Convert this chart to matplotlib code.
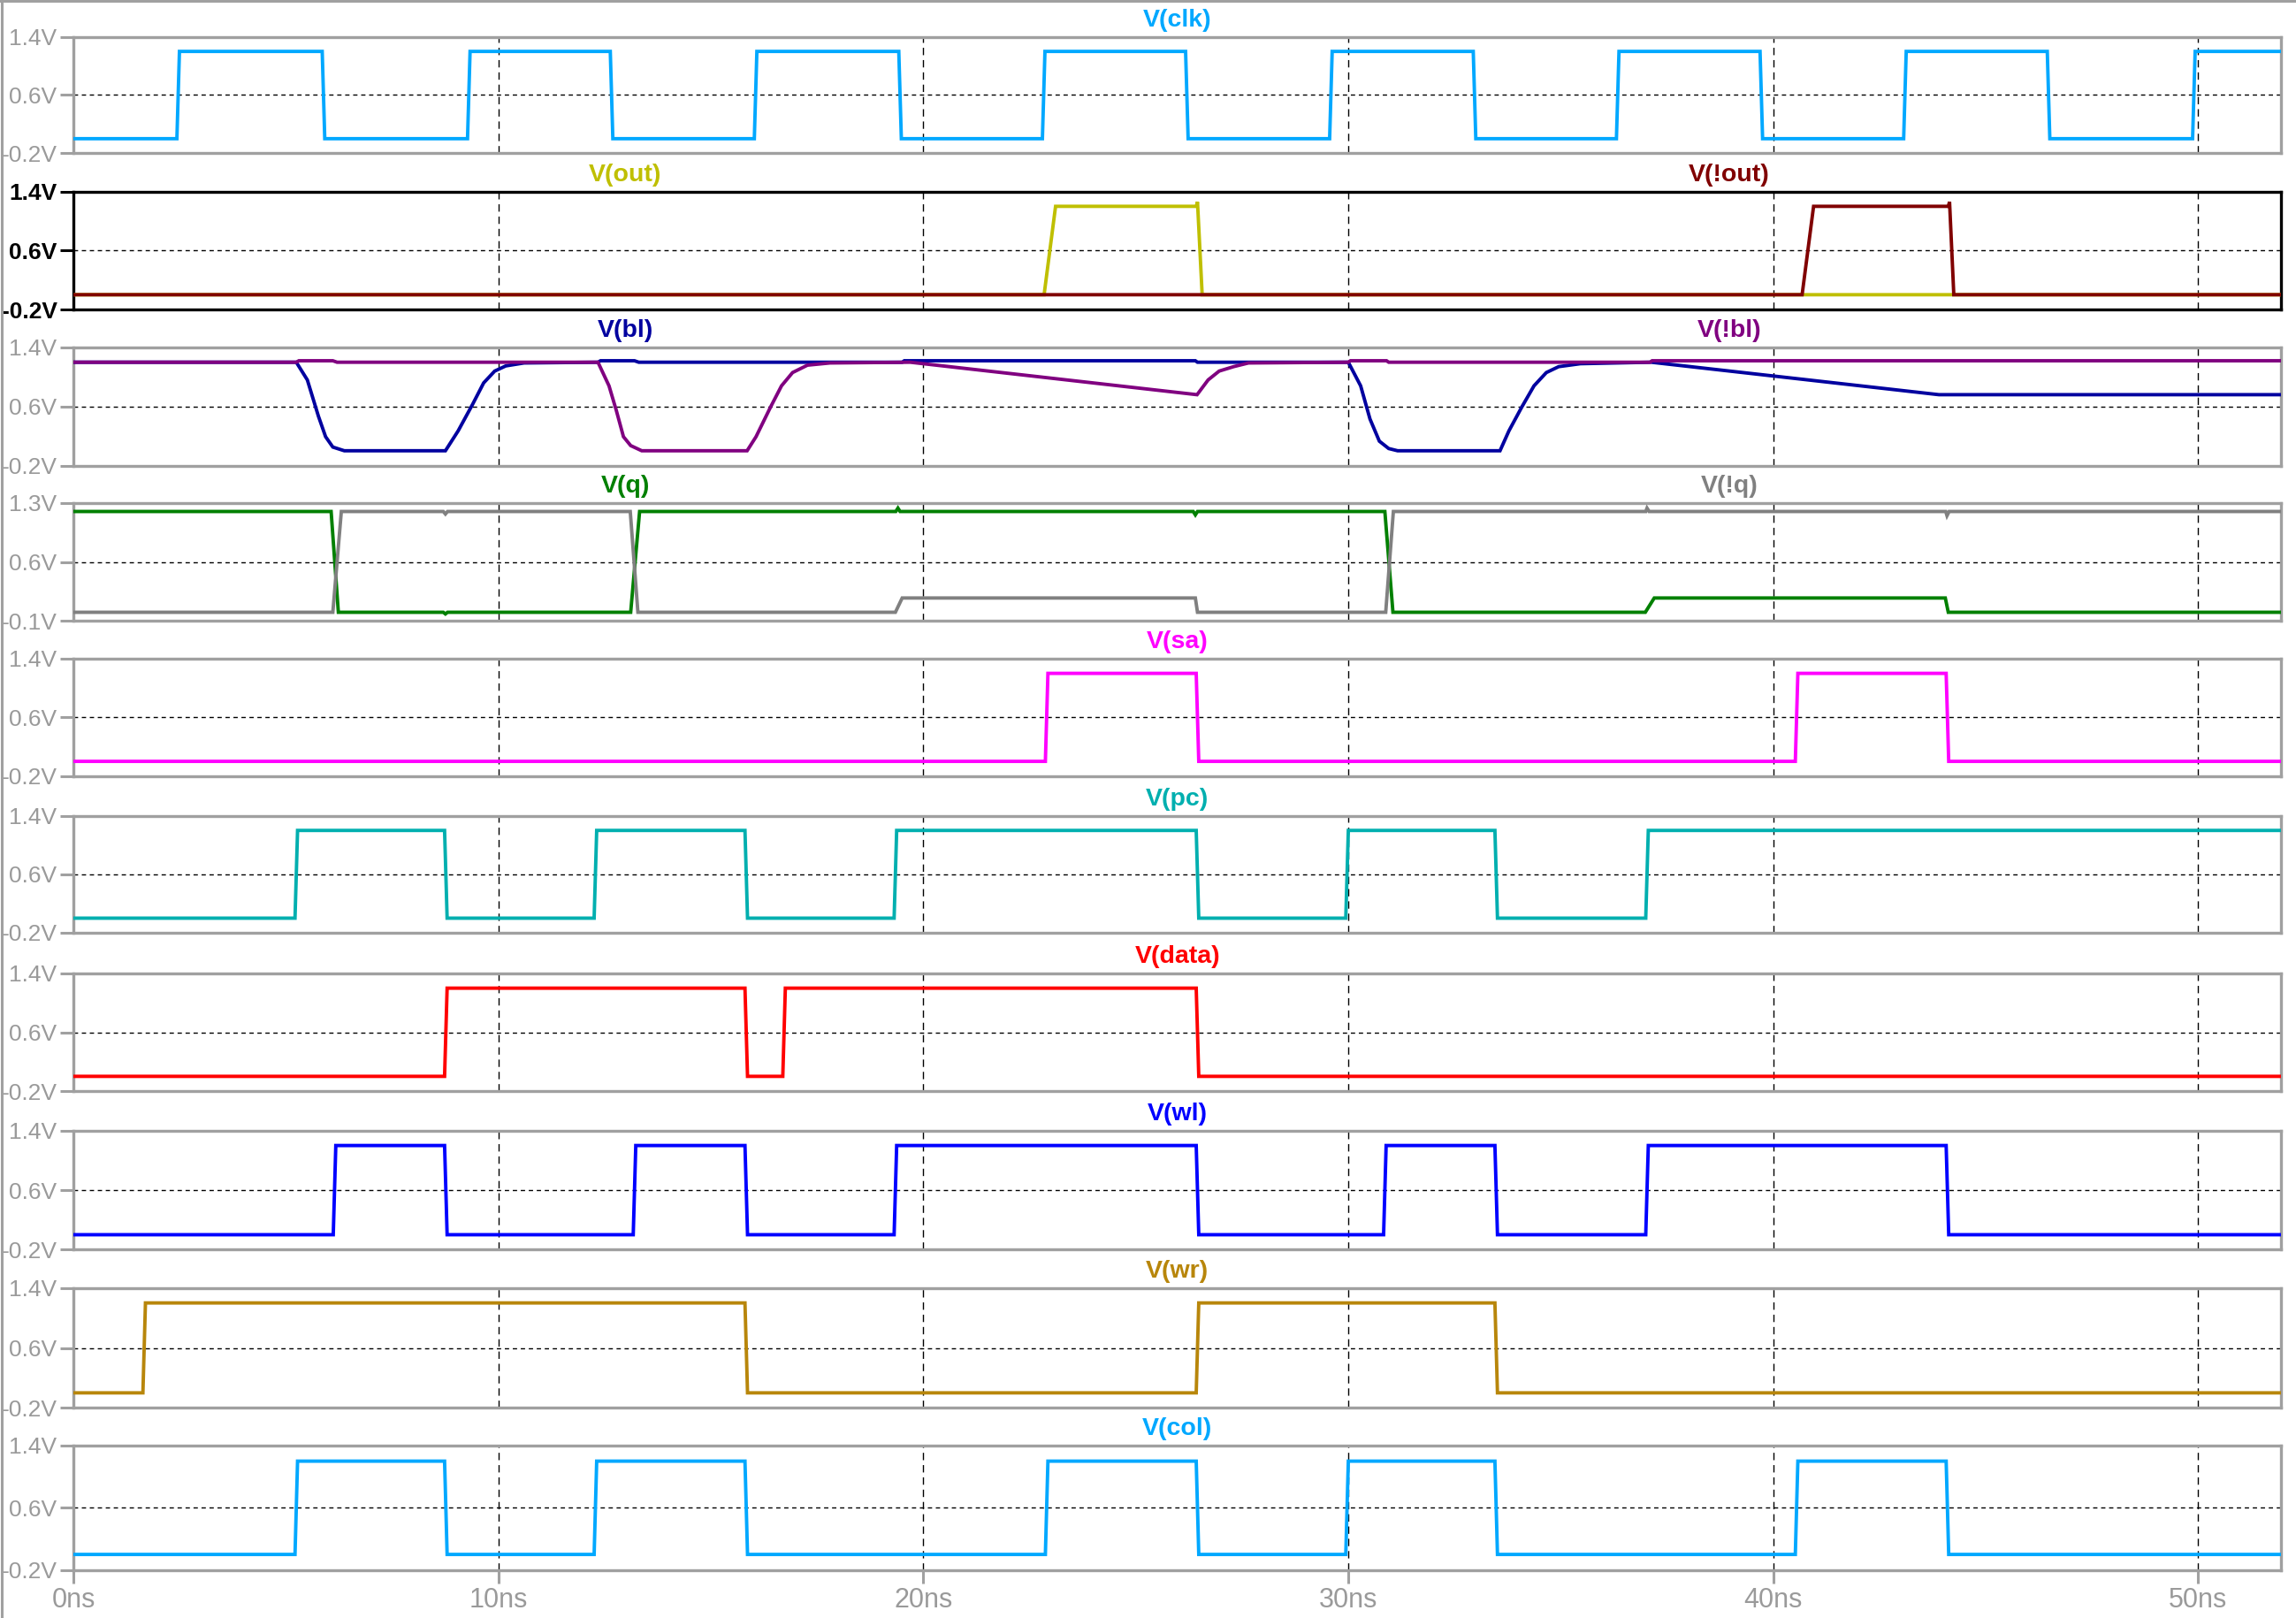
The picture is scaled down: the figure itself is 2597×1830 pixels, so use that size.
import numpy as np
import matplotlib
matplotlib.use("Agg")
import matplotlib.pyplot as plt
from matplotlib import font_manager
from matplotlib.lines import Line2D

# ---- waveforms (time in ns, level in V) ----
T_END = 51.95

clk_edges = [2.46, 5.88, 9.30, 12.66, 16.05, 19.45, 22.83, 26.20, 29.59, 32.97,
             36.34, 39.72, 43.10, 46.48, 49.90]
sa_edges = [22.90, 26.45, 40.55, 44.10]
pc_edges = [5.24, 8.76, 12.28, 15.83, 19.34, 26.45, 29.97, 33.48, 37.03]
data_edges = [8.76, 15.83, 16.72, 26.45]
wl_edges = [6.14, 8.76, 13.20, 15.83, 19.34, 26.45, 30.86, 33.48, 37.03, 44.10]
wr_edges = [1.66, 15.83, 26.45, 33.48]
col_edges = [5.24, 8.76, 12.28, 15.83, 22.90, 26.45, 29.97, 33.48, 40.55, 44.10]

out_t = [0, 22.84, 23.11, 26.42, 26.45, 26.56, T_END]
out_v = [0.0, 0.0, 1.2, 1.2, 1.26, 0.0, 0.0]
nout_t = [0, 40.68, 40.95, 44.12, 44.15, 44.25, T_END]
nout_v = [0.0, 0.0, 1.2, 1.2, 1.26, 0.0, 0.0]

bl_t = [0, 5.24, 5.50, 5.76, 5.93, 6.10, 6.37, 8.75, 9.05, 9.39, 9.65, 9.91, 10.17,
        10.60, 12.34, 12.40, 13.20, 13.30, 19.50, 19.55, 26.40, 26.45, 30.00, 30.29,
        30.51, 30.73, 30.95, 31.16, 33.57, 33.78, 34.08, 34.37, 34.66, 34.95, 35.46,
        37.13, 43.90, T_END]
bl_v = [1.2, 1.2, 0.96, 0.47, 0.19, 0.05, 0.0, 0.0, 0.27, 0.63, 0.92, 1.08, 1.15,
        1.19, 1.2, 1.22, 1.22, 1.2, 1.2, 1.22, 1.22, 1.2, 1.2, 0.88,
        0.43, 0.13, 0.03, 0.0, 0.0, 0.27, 0.59, 0.88, 1.06, 1.14, 1.18,
        1.2, 0.76, 0.76]
nbl_t = [0, 5.24, 5.30, 6.10, 6.20, 12.34, 12.60, 12.77, 12.94, 13.11, 13.37, 15.85,
         16.06, 16.40, 16.66, 16.92, 17.27, 17.80, 19.69, 26.44, 26.70, 26.96, 27.30,
         27.65, 30.00, 30.05, 30.90, 30.95, 37.10, 37.15, T_END]
nbl_v = [1.2, 1.2, 1.22, 1.22, 1.2, 1.2, 0.88, 0.55, 0.19, 0.07, 0.0, 0.0,
         0.19, 0.59, 0.88, 1.06, 1.16, 1.19, 1.2, 0.76, 0.96, 1.08, 1.14,
         1.19, 1.2, 1.22, 1.22, 1.2, 1.2, 1.22, 1.22]

q_t = [0, 6.06, 6.23, 8.70, 8.75, 8.80, 13.11, 13.32, 19.35, 19.40, 19.45, 26.35,
       26.40, 26.45, 30.86, 31.05, 36.99, 37.20, 44.05, 44.12, T_END]
q_v = [1.2, 1.2, 0.0, 0.0, -0.02, 0.0, 0.0, 1.2, 1.2, 1.24, 1.2, 1.2,
       1.16, 1.2, 1.2, 0.0, 0.0, 0.17, 0.17, 0.0, 0.0]
nq_t = [0, 6.10, 6.30, 8.70, 8.75, 8.80, 13.10, 13.28, 19.34, 19.50, 26.40, 26.45,
        30.88, 31.06, 37.00, 37.03, 37.08, 44.06, 44.09, 44.14, T_END]
nq_v = [0.0, 0.0, 1.2, 1.2, 1.17, 1.2, 1.2, 0.0, 0.0, 0.17, 0.17, 0.0,
        0.0, 1.2, 1.2, 1.24, 1.2, 1.2, 1.15, 1.2, 1.2]

C_CLK = "#00a8ff"
C_OUT, C_NOUT = "#bfbf00", "#800000"
C_BL, C_NBL = "#00009f", "#800080"
C_Q, C_NQ = "#008000", "#808080"
C_SA, C_PC, C_DATA = "#ff00ff", "#00afaf", "#ff0000"
C_WL, C_WR = "#0000ff", "#b8860b"

x_grid = [10, 20, 30, 40, 50]


def square(edges, hi=1.2, lo=0.0, tr=0.06):
    t, v, lvl = [0.0], [lo], lo
    for e in edges:
        new = hi if lvl == lo else lo
        t += [e - tr / 2, e + tr / 2]
        v += [lvl, new]
        lvl = new
    t.append(T_END); v.append(lvl)
    return t, v


# panel list: (traces, ylim, selected)
panels = [
    ([("V(clk)", *square(clk_edges), C_CLK, 0.5)], (-0.2, 1.4), False),
    ([("V(out)", out_t, out_v, C_OUT, 0.25), ("V(!out)", nout_t, nout_v, C_NOUT, 0.75)], (-0.2, 1.4), True),
    ([("V(bl)", bl_t, bl_v, C_BL, 0.25), ("V(!bl)", nbl_t, nbl_v, C_NBL, 0.75)], (-0.2, 1.4), False),
    ([("V(q)", q_t, q_v, C_Q, 0.25), ("V(!q)", nq_t, nq_v, C_NQ, 0.75)], (-0.1, 1.3), False),
    ([("V(sa)", *square(sa_edges), C_SA, 0.5)], (-0.2, 1.4), False),
    ([("V(pc)", *square(pc_edges), C_PC, 0.5)], (-0.2, 1.4), False),
    ([("V(data)", *square(data_edges), C_DATA, 0.5)], (-0.2, 1.4), False),
    ([("V(wl)", *square(wl_edges), C_WL, 0.5)], (-0.2, 1.4), False),
    ([("V(wr)", *square(wr_edges), C_WR, 0.5)], (-0.2, 1.4), False),
    ([("V(col)", *square(col_edges), C_CLK, 0.5)], (-0.2, 1.4), False),
]

# pane geometry in pixels of the 2597x1830 screenshot
W, H = 2597, 1830
LEFT, RIGHT = 83.3, 2580
tops = [41.7, 216.7, 393, 569, 745, 922.7, 1101, 1278.8, 1456.7, 1635]
bots = [173.3, 350, 526.5, 702, 877.7, 1055, 1234, 1413.3, 1592.3, 1775.7]

names = {f.name for f in font_manager.fontManager.ttflist}
TICKFONT = "Liberation Sans Narrow" if "Liberation Sans Narrow" in names else "Liberation Sans"
plt.rcParams["lines.scale_dashes"] = False

fig = plt.figure(figsize=(W / 100, H / 100), dpi=100)
GRAY = "#a0a0a0"
LBL = "#9a9a9a"

for i, (traces, (lo, hi), sel) in enumerate(panels):
    ax = fig.add_axes([LEFT / W, 1 - bots[i] / H, (RIGHT - LEFT) / W, (bots[i] - tops[i]) / H])
    mid = round((lo + hi) / 2, 2)
    for x in x_grid:
        ax.axvline(x, color="black", lw=1.0, dashes=(6, 4), zorder=1)
    ax.axhline(mid, color="black", lw=1.0, dashes=(3.5, 3), zorder=1)
    for name, t, v, c, xpos in traces:
        ax.plot(t, v, color=c, lw=2.8, solid_joinstyle="miter", zorder=3)
        ax.annotate(name, xy=(xpos, 1), xycoords="axes fraction", xytext=(0, 13.5),
                    textcoords="offset points", ha="center", va="center", color=c,
                    fontsize=20.5, fontweight="bold", family="Liberation Sans")
    ax.set_xlim(0, T_END)
    ax.set_ylim(lo, hi)
    fc = "black" if sel else GRAY
    for s in ax.spines.values():
        s.set_color(fc); s.set_linewidth(2.4)
    ax.set_yticks([lo, mid, hi])
    ax.set_yticklabels([f"{v:.1f}V" for v in (lo, mid, hi)], family=TICKFONT,
                       fontsize=19, color="black" if sel else LBL,
                       fontweight="bold" if sel else "normal")
    ax.tick_params(axis="y", direction="out", length=11, width=2.2, color=fc, pad=2.5)
    if i == len(panels) - 1:
        ax.set_xticks([0] + x_grid)
        ax.set_xticklabels([f"{x}ns" for x in [0] + x_grid], family=TICKFONT,
                           fontsize=22, color=LBL)
        ax.tick_params(axis="x", direction="out", length=11, width=2.2, color=GRAY, pad=3)
    else:
        ax.set_xticks([])

# outer window border (left and top)
fig.add_artist(Line2D([0.0006, 0.0006], [0, 1], transform=fig.transFigure, color=GRAY, lw=2.2))
fig.add_artist(Line2D([0, 1], [0.9994, 0.9994], transform=fig.transFigure, color=GRAY, lw=2.2))

fig.savefig("out.png", dpi=100)
